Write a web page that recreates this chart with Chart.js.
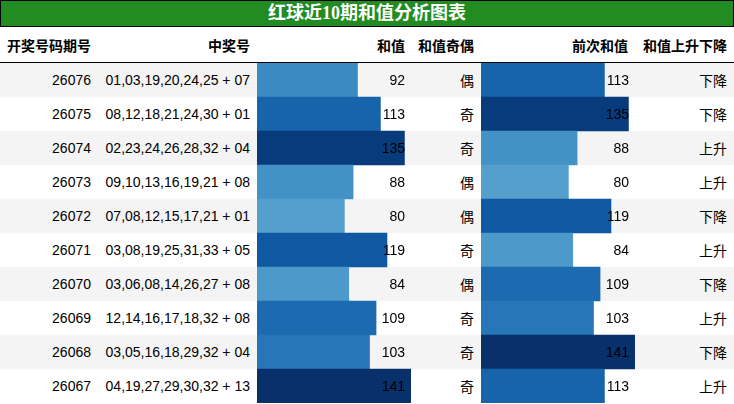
<!DOCTYPE html>
<html>
<head>
<meta charset="utf-8">
<script src="https://cdn.jsdelivr.net/npm/chart.js@4/dist/chart.umd.min.js"></script>
<style>
  body { margin: 0; background: #fff; }
  #wrap { position: relative; width: 734px; height: 404px; overflow: hidden; font-family: "Liberation Sans", "Noto Sans CJK SC", sans-serif; color: #000; }
  #title { box-sizing: border-box; height: 27px; background: #228b22; border: 1px solid #000; color: #fff;
           font: bold 18px "Liberation Serif", "Noto Sans CJK SC", serif; text-align: center; line-height: 24px; }
  table { border-collapse: collapse; table-layout: fixed; width: 734px; font-size: 14px; }
  th, td { padding: 0 7px 0 0; text-align: right; white-space: nowrap; }
  th { height: 35px; font-weight: bold; border-bottom: 1px solid #000; }
  td { height: 34px; }
  tr.odd td { background: #f4f4f4; }
  .barbox { position: absolute; top: 63px; width: 154px; height: 340px; }
</style>
</head>
<body>
<div id="wrap">
  <div id="title">红球近10期和值分析图表</div>
  <table id="tbl"></table>
  <div class="barbox" style="left:257px"><canvas id="sumChart" width="154" height="340"></canvas></div>
  <div class="barbox" style="left:481px"><canvas id="prevChart" width="154" height="340"></canvas></div>
</div>
<script>
// table data
const headers = ['开奖号码期号', '中奖号', '和值', '和值奇偶', '前次和值', '和值上升下降'];
const periods = ['26076', '26075', '26074', '26073', '26072', '26071', '26070', '26069', '26068', '26067'];
const numbers = ['01,03,19,20,24,25 + 07', '08,12,18,21,24,30 + 01', '02,23,24,26,28,32 + 04', '09,10,13,16,19,21 + 08',
                 '07,08,12,15,17,21 + 01', '03,08,19,25,31,33 + 05', '03,06,08,14,26,27 + 08', '12,14,16,17,18,32 + 08',
                 '03,05,16,18,29,32 + 04', '04,19,27,29,30,32 + 13'];
const sums = [92, 113, 135, 88, 80, 119, 84, 109, 103, 141];
const parity = ['偶', '奇', '奇', '偶', '偶', '奇', '偶', '奇', '奇', '奇'];
const prevSums = [113, 135, 88, 80, 119, 84, 109, 103, 141, 113];
const trend = ['下降', '下降', '上升', '上升', '下降', '上升', '下降', '上升', '下降', '上升'];

const colWidths = [97, 160, 154, 70, 154, 99];
const padRight = [6, 7, 6, 7, 7, 7];

// build the html table
const tbl = document.getElementById('tbl');
let html = '<colgroup>' + colWidths.map(w => '<col style="width:' + w + 'px">').join('') + '</colgroup>';
html += '<tr>' + headers.map((h, i) => '<th style="padding-right:' + padRight[i] + 'px">' + h + '</th>').join('') + '</tr>';
periods.forEach((p, r) => {
    const cells = [p, numbers[r], '', parity[r], '', trend[r]]; // bar columns are drawn by chart.js
    html += '<tr class="' + (r % 2 === 0 ? 'odd' : 'even') + '">' +
        cells.map((c, i) => '<td style="padding-right:' + padRight[i] + 'px">' + c + '</td>').join('') + '</tr>';
});
tbl.innerHTML = html;

// matplotlib "Blues" colormap
const blues = ['#f7fbff', '#deebf7', '#c6dbef', '#9ecae1', '#6baed6', '#4292c6', '#2171b5', '#08519c', '#08306b'];
const hex = h => [1, 3, 5].map(i => parseInt(h.substr(i, 2), 16));
const bluesColor = t => {
    t = Math.max(0, Math.min(1, t));
    const pos = t * (blues.length - 1);
    const i = Math.min(Math.floor(pos), blues.length - 2);
    const f = pos - i;
    const a = hex(blues[i]), b = hex(blues[i + 1]);
    const c = a.map((v, k) => Math.round(v + (b[k] - v) * f));
    return 'rgb(' + c.join(',') + ')';
};

const maxValue = Math.max(...sums, ...prevSums);

// draw the value text at the right side of each row
const valueLabels = {
    id: 'valueLabels',
    afterDatasetsDraw(chart) {
        const ctx = chart.ctx;
        const meta = chart.getDatasetMeta(0);
        const values = chart.data.datasets[0].data;
        ctx.save();
        ctx.font = '14px "Liberation Sans", sans-serif';
        ctx.fillStyle = '#000';
        ctx.textAlign = 'right';
        ctx.textBaseline = 'middle';
        meta.data.forEach((bar, i) => {
            ctx.fillText(values[i], chart.chartArea.right - 6, bar.y + 1);
        });
        ctx.restore();
    }
};

const makeBars = (id, values) => {
    new Chart(document.getElementById(id), {
        type: 'bar',
        data: {
            labels: periods,
            datasets: [{
                data: values,
                backgroundColor: values.map(v => bluesColor(v / maxValue)),
                borderWidth: 0,
                barPercentage: 1,
                categoryPercentage: 1
            }]
        },
        options: {
            indexAxis: 'y',
            responsive: false,
            animation: false,
            layout: { padding: 0 },
            scales: {
                x: { display: false, min: 0, max: maxValue },
                y: { display: false }
            },
            plugins: { legend: { display: false }, tooltip: { enabled: false } }
        },
        plugins: [valueLabels]
    });
};

makeBars('sumChart', sums);
makeBars('prevChart', prevSums);
</script>
</body>
</html>
